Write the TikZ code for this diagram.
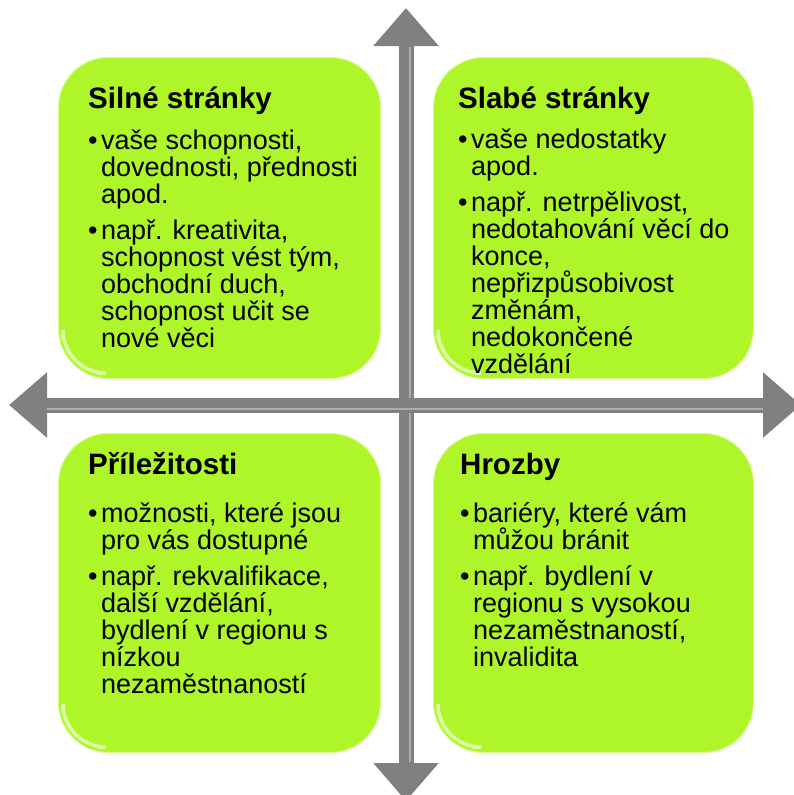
\documentclass[tikz,border=0pt]{standalone}
\usepackage{fontspec}
\setmainfont{Liberation Sans}
\usetikzlibrary{arrows.meta}
\definecolor{boxgreen}{RGB}{174,246,42}
\definecolor{boxedge}{RGB}{214,252,140}
\definecolor{axisgray}{RGB}{128,128,128}
\definecolor{axislight}{RGB}{170,172,176}
\tikzset{
  quad/.style={fill=boxgreen, draw=boxedge, line width=1pt, rounded corners=50pt, anchor=north west, inner sep=0pt},
  headtxt/.style={anchor=base west, inner sep=0pt, font=\fontsize{29.5}{34}\selectfont\bfseries},
  bodytxt/.style={anchor=base west, inner sep=0pt, font=\fontsize{27}{30}\selectfont},
  axis/.style={draw=axisgray, line width=15pt, {Triangle[length=38pt,width=63pt]}-{Triangle[length=38pt,width=63pt]}},
  axisstripe/.style={draw=axislight, line width=2.5pt},
  gloss/.style={draw=white, opacity=0.6, line width=3.5pt, rounded corners=43pt, line cap=round},
}
\begin{document}
\begin{tikzpicture}[x=1pt,y=-1pt]
\clip (0,0) rectangle (794,795);
\fill[white] (0,0) rectangle (794,795);

% boxes
\node[quad, minimum width=322pt, minimum height=321pt] (tlbox) at (58,57) {};
\node[quad, minimum width=320pt, minimum height=321pt] (trbox) at (433,57) {};
\node[quad, minimum width=322pt, minimum height=319pt] (blbox) at (58,433) {};
\node[quad, minimum width=320pt, minimum height=319pt] (brbox) at (433,433) {};

% gloss highlights (bottom-left corners)
\draw[gloss] (63,338) -- (63,373) -- (98,373);
\draw[gloss] (438,338) -- (438,373) -- (473,373);
\draw[gloss] (63,712) -- (63,747) -- (98,747);
\draw[gloss] (438,712) -- (438,747) -- (473,747);

% axes
\coordinate (aL) at (9,405);
\coordinate (aR) at (801,405);
\coordinate (aT) at (406,8);
\coordinate (aB) at (406,801);
\coordinate (sT) at (410,47);
\coordinate (sB) at (410,762);
\coordinate (sL) at (47,409);
\coordinate (sR) at (763,409);
\draw[axis] (aT) -- (aB);
\draw[axisstripe] (sT) -- (sB);
\draw[axis] (aL) -- (aR);
\draw[axisstripe] (sL) -- (sR);

% top-left
\node[headtxt] (tlh) at (88,108) {Silné stránky};
\node[bodytxt] (tlb1) at (88,149) {•};
\node[bodytxt] (tlb2) at (88,239) {•};
\node[bodytxt] (tl1) at (101,149) {vaše schopnosti,};
\node[bodytxt] (tl2) at (101,176) {dovednosti, přednosti};
\node[bodytxt] (tl3) at (101,203) {apod.};
\node[bodytxt] (tl4) at (101,239) {např. kreativita,};
\node[bodytxt] (tl5) at (101,266) {schopnost vést tým,};
\node[bodytxt] (tl6) at (101,293) {obchodní duch,};
\node[bodytxt] (tl7) at (101,320) {schopnost učit se};
\node[bodytxt] (tl8) at (101,347) {nové věci};

% top-right
\node[headtxt] (trh) at (458,108) {Slabé stránky};
\node[bodytxt] (trb1) at (458,148) {•};
\node[bodytxt] (trb2) at (458,211) {•};
\node[bodytxt] (tr1) at (471,148) {vaše nedostatky};
\node[bodytxt] (tr2) at (471,175) {apod.};
\node[bodytxt] (tr3) at (471,211) {např. netrpělivost,};
\node[bodytxt] (tr4) at (471,238) {nedotahování věcí do};
\node[bodytxt] (tr5) at (471,265) {konce,};
\node[bodytxt] (tr6) at (471,292) {nepřizpůsobivost};
\node[bodytxt] (tr7) at (471,319) {změnám,};
\node[bodytxt] (tr8) at (471,346) {nedokončené};
\node[bodytxt] (tr9) at (471,373) {vzdělání};

% bottom-left
\node[headtxt] (blh) at (88,474) {Příležitosti};
\node[bodytxt] (blb1) at (88,522) {•};
\node[bodytxt] (blb2) at (88,585) {•};
\node[bodytxt] (bl1) at (101,522) {možnosti, které jsou};
\node[bodytxt] (bl2) at (101,549) {pro vás dostupné};
\node[bodytxt] (bl3) at (101,585) {např. rekvalifikace,};
\node[bodytxt] (bl4) at (101,612) {další vzdělání,};
\node[bodytxt] (bl5) at (101,639) {bydlení v regionu s};
\node[bodytxt] (bl6) at (101,666) {nízkou};
\node[bodytxt] (bl7) at (101,693) {nezaměstnaností};

% bottom-right
\node[headtxt] (brh) at (460,474) {Hrozby};
\node[bodytxt] (brb1) at (460,522) {•};
\node[bodytxt] (brb2) at (460,585) {•};
\node[bodytxt] (br1) at (473,522) {bariéry, které vám};
\node[bodytxt] (br2) at (473,549) {můžou bránit};
\node[bodytxt] (br3) at (473,585) {např. bydlení v};
\node[bodytxt] (br4) at (473,612) {regionu s vysokou};
\node[bodytxt] (br5) at (473,639) {nezaměstnaností,};
\node[bodytxt] (br6) at (473,666) {invalidita};
\end{tikzpicture}
\end{document}
